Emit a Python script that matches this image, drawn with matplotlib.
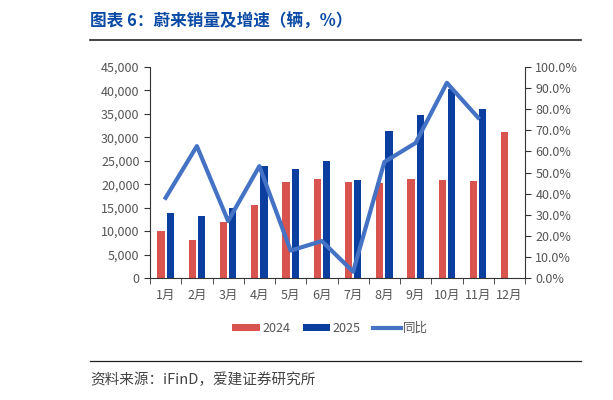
import matplotlib.pyplot as plt
import numpy as np

plt.rcParams['font.family'] = ['Noto Sans CJK SC', 'DejaVu Sans']

months = [f'{i}月' for i in range(1, 13)]
sales_2024 = [10000, 8100, 11900, 15600, 20500, 21200, 20500, 20200, 21200, 21000, 20600, 31100]
sales_2025 = [13900, 13200, 15000, 23900, 23200, 24900, 21000, 31300, 34700, 40400, 36100]
yoy = [38.0, 62.5, 27.0, 53.0, 13.0, 17.5, 3.0, 55.0, 64.0, 92.5, 76.0]

fig = plt.figure(figsize=(6.13, 4.0), dpi=100)
ax = fig.add_axes([150/613, 1-278/400, 375/613, 211/400])
ax2 = ax.twinx()

x = np.arange(12)
w = 0.23
ax.bar(x - 0.15, sales_2024, w, color='#d9534f', label='2024')
ax.bar(np.arange(len(sales_2025)) + 0.15, sales_2025, w, color='#0a3fa0', label='2025')
ax2.plot(np.arange(len(yoy)), yoy, color='#4472c4', lw=3, label='同比')

ax.set_ylim(0, 45000)
ax.set_yticks(range(0, 45001, 5000))
ax.set_yticklabels([f'{v:,}' for v in range(0, 45001, 5000)])
ax2.set_ylim(0, 100)
ax2.set_yticks(range(0, 101, 10))
ax2.set_yticklabels([f'{v}.0%' for v in range(0, 101, 10)])
ax.set_xlim(-0.5, 11.5)
ax.set_xticks(x)
ax.set_xticklabels(months)
ax.set_xticks(np.arange(-0.5, 12, 1), minor=True)
ax.tick_params(axis='x', which='major', length=0, labelsize=9, colors='#555555', pad=8)
ax.tick_params(axis='x', which='minor', length=4, color='#333333')
for a in (ax, ax2):
    a.tick_params(axis='y', labelsize=9, colors='#555555', length=4)
    a.spines['top'].set_visible(False)
ax.tick_params(axis='y', color='#333333')
ax2.tick_params(axis='y', color='#333333')
ax.spines['left'].set_color('#333333')
ax2.spines['right'].set_color('#333333')
ax.spines['bottom'].set_color('#333333')
ax2.spines['left'].set_visible(False)
ax2.spines['bottom'].set_visible(False)
ax.spines['right'].set_visible(False)

h1, l1 = ax.get_legend_handles_labels()
h2, l2 = ax2.get_legend_handles_labels()
fig.legend(h1 + h2, l1 + l2, loc='center', bbox_to_anchor=(330/613, 1-328/400), ncol=3,
           frameon=False, fontsize=9, handlelength=2.2, handleheight=0.5,
           handletextpad=0.2, columnspacing=1.0, labelcolor='#555555')

fig.text(90/613, 1-22/400, '图表 6：蔚来销量及增速（辆，%）', fontsize=12, fontweight='bold',
         color='#0a4aa5', va='center')
fig.add_artist(plt.Line2D([90/613, 581/613], [1-40/400, 1-40/400], color='#222222', lw=1.2))
fig.add_artist(plt.Line2D([90/613, 581/613], [1-361/400, 1-361/400], color='#222222', lw=0.9))
fig.text(90/613, 1-380/400, '资料来源：iFinD，爱建证券研究所', fontsize=10.5, color='#444444', va='center')

fig.savefig('out.png', dpi=100)
